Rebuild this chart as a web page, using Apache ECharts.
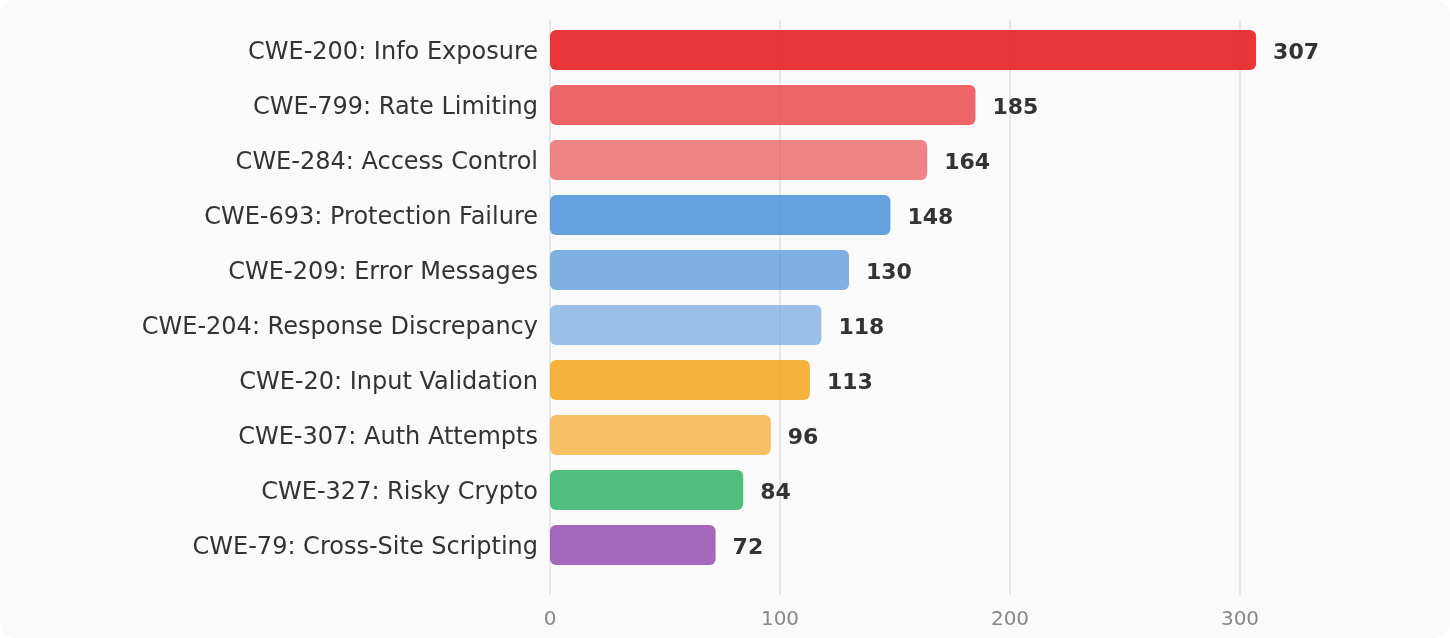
<!DOCTYPE html>
<html>
<head>
<meta charset="utf-8">
<script src="https://cdn.jsdelivr.net/npm/echarts@6/dist/echarts.min.js"></script>
<style>
  html, body { margin: 0; padding: 0; background: #fff; }
  #chart { width: 1450px; height: 638px; background: #fafafa; border-radius: 16px; overflow: hidden; }
</style>
</head>
<body>
<div id="chart"></div>
<script>
// weakness categories, top to bottom
var categories = [
  "CWE-200: Info Exposure",
  "CWE-799: Rate Limiting",
  "CWE-284: Access Control",
  "CWE-693: Protection Failure",
  "CWE-209: Error Messages",
  "CWE-204: Response Discrepancy",
  "CWE-20: Input Validation",
  "CWE-307: Auth Attempts",
  "CWE-327: Risky Crypto",
  "CWE-79: Cross-Site Scripting"
];
var counts = [307, 185, 164, 148, 130, 118, 113, 96, 84, 72];
var tickLabels = [0, 100, 200, 300];

var barColors = [
  "rgba(231,43,46,0.95)",
  "rgba(231,43,46,0.72)",
  "rgba(231,43,46,0.57)",
  "rgba(74,144,217,0.85)",
  "rgba(74,144,217,0.70)",
  "rgba(74,144,217,0.55)",
  "rgba(245,166,35,0.87)",
  "rgba(245,166,35,0.70)",
  "rgba(39,174,96,0.80)",
  "rgba(142,68,173,0.80)"
];

var chart = echarts.init(document.getElementById("chart"));
var font = "DejaVu Sans";

var option = {
  animation: false,
  textStyle: { fontFamily: font },
  grid: [
    { left: 550, right: 49, top: 22.5, bottom: 65.5 },  // bars
    { left: 550, right: 49, top: 20, bottom: 43 }       // grid lines + ticks
  ],
  xAxis: [
    { type: "value", gridIndex: 0, min: 0, max: 370, show: false },
    {
      type: "value",
      gridIndex: 1,
      min: 0,
      max: 370,
      interval: 100,
      axisLine: { show: false },
      axisTick: { show: false },
      splitLine: { show: true, showMaxLine: false, lineStyle: { color: "#e0e0e0", width: 1.5 } },
      axisLabel: {
        color: "#888",
        fontSize: 20,
        margin: 15,
        showMaxLabel: false,
        formatter: function (v) { return tickLabels.indexOf(v) >= 0 ? String(v) : ""; }
      }
    }
  ],
  yAxis: [
    {
      type: "category",
      gridIndex: 0,
      inverse: true,
      data: categories,
      axisLine: { show: false },
      axisTick: { show: false },
      // small line box pushed below the row centre nudges the text down a bit
      axisLabel: { color: "#333", fontSize: 24, margin: 12, verticalAlign: "top", lineHeight: 6 }
    },
    { type: "value", gridIndex: 1, show: false }
  ],
  series: [
    {
      type: "bar",
      xAxisIndex: 0,
      yAxisIndex: 0,
      barWidth: 40,
      data: counts.map(function (v, i) {
        return { value: v, itemStyle: { color: barColors[i] } };
      }),
      itemStyle: { borderRadius: 6 },
      label: {
        show: true,
        position: "right",
        distance: 17,
        offset: [0, 3],
        color: "#333",
        fontSize: 22,
        fontWeight: "bold"
      }
    }
  ]
};

chart.setOption(option);
</script>
</body>
</html>
